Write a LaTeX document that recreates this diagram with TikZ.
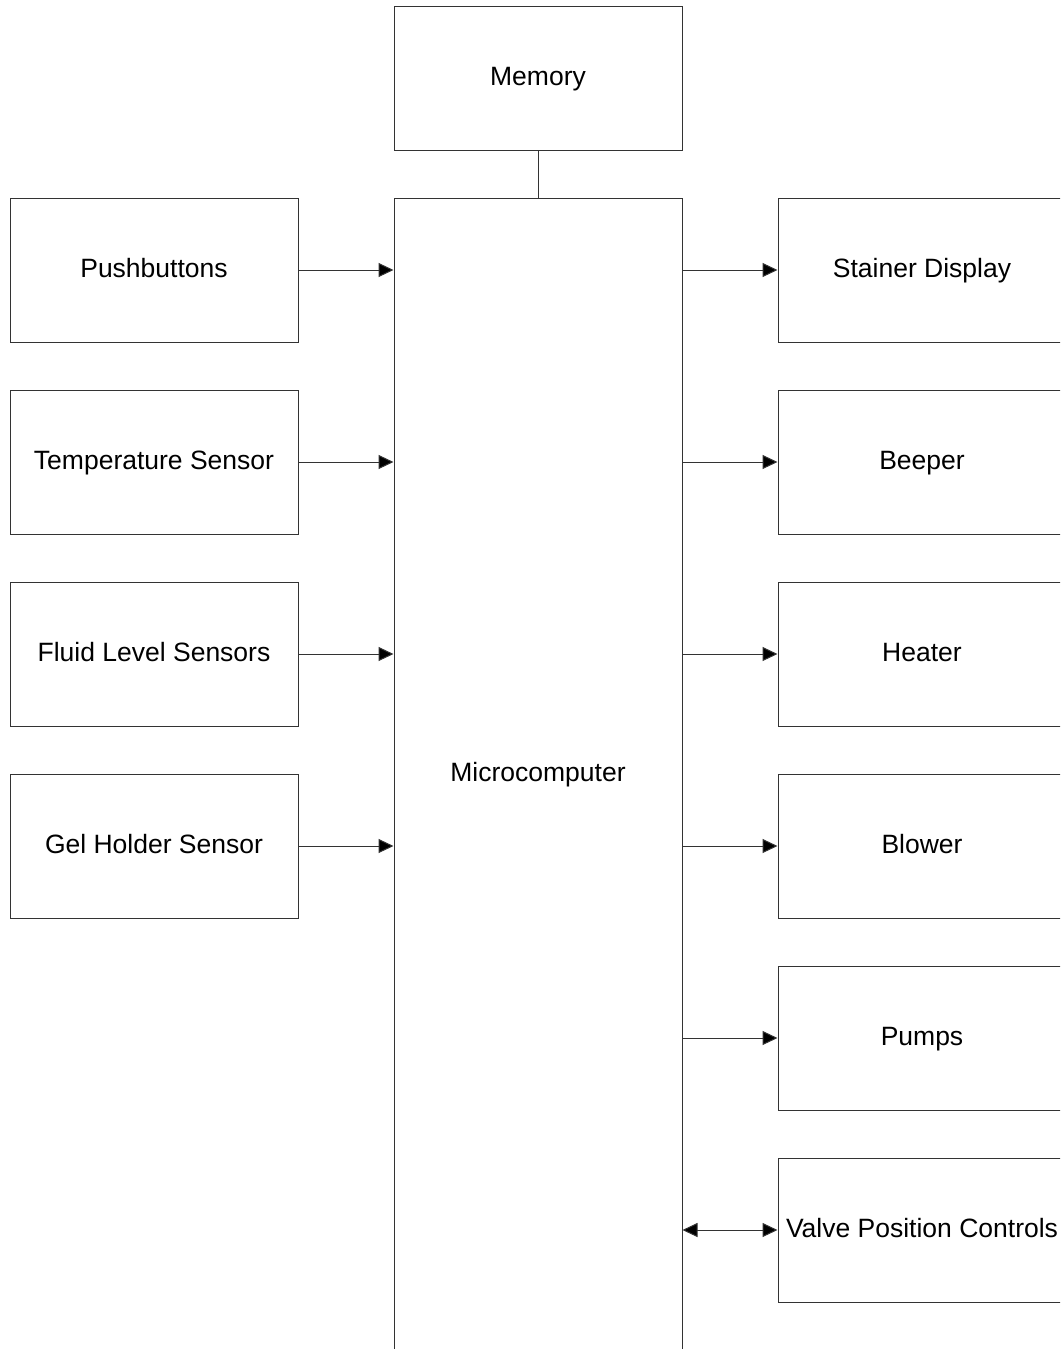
\documentclass[tikz,border=0pt]{standalone}
\usepackage{fontspec}
\setmainfont{Liberation Sans}
\usetikzlibrary{arrows.meta}
\begin{document}
\begin{tikzpicture}[x=1pt,y=-1pt,
  lbl/.style={font=\fontsize{26.5}{30}\selectfont, text=black, text height=20pt, text depth=4.5pt, inner sep=0pt},
  blk/.style={lbl, draw=black!80, line width=1pt, minimum width=288pt, minimum height=144pt},
  conn/.style={draw=black!80, line width=1pt},
  tip/.tip={Triangle[length=15pt,width=14pt,fill=black]},
  arr/.style={conn, -tip},
  darr/.style={conn, tip-tip}]
\useasboundingbox (0,0) rectangle (1060,1349);
\clip (0,0) rectangle (1060,1349);
\fill[white] (0,0) rectangle (1060,1349);
% central
\node[blk] (mem) at (538,78) {Memory};
\node[draw=black!80, line width=1pt, minimum width=288pt, minimum height=1156pt, inner sep=0pt] (micro) at (538,776) {};
\node[lbl] (microlbl) at (538,774) {Microcomputer};
% left
\node[blk] (pb) at (154,270) {Pushbuttons};
\node[blk] (ts) at (154,462) {Temperature Sensor};
\node[blk] (fl) at (154,654) {Fluid Level Sensors};
\node[blk] (gh) at (154,846) {Gel Holder Sensor};
% right
\node[blk] (sd) at (922,270) {Stainer Display};
\node[blk] (bp) at (922,462) {Beeper};
\node[blk] (ht) at (922,654) {Heater};
\node[blk] (bl) at (922,846) {Blower};
\node[blk] (pm) at (922,1038) {Pumps};
\node[blk] (vp) at (922,1230) {Valve Position Controls};
% connectors
\draw[conn] (mem.south) -- (micro.north);
\foreach \n in {pb,ts,fl,gh} \draw[arr] (\n.east) -- (\n.east -| micro.west);
\foreach \n in {sd,bp,ht,bl,pm} \draw[arr] (\n.west -| micro.east) -- (\n.west);
\draw[darr] (vp.west -| micro.east) -- (vp.west);
\end{tikzpicture}
\end{document}
